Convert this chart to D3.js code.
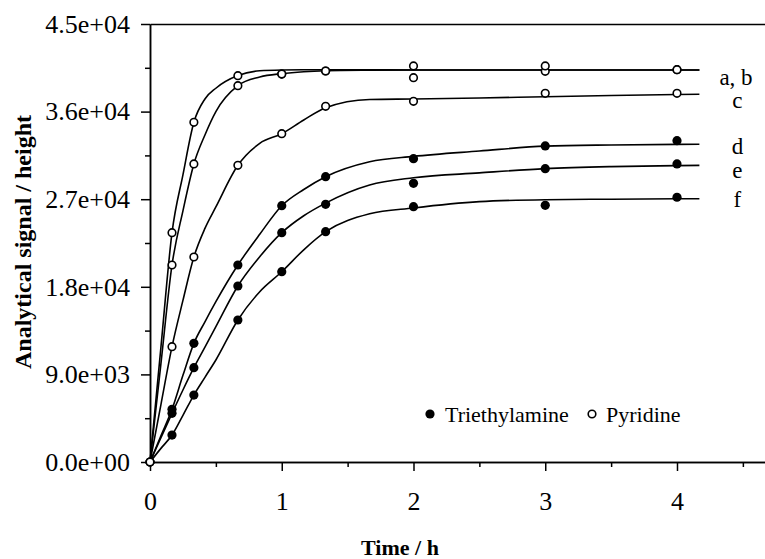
<!DOCTYPE html>
<html>
<head>
<meta charset="utf-8">
<script src="https://cdn.jsdelivr.net/npm/d3@7"></script>
<style>
  body { margin: 0; background: #fff; }
  svg text { font-family: "Liberation Serif", "Times New Roman", serif; fill: #000; }
  .axis path, .axis line { stroke: #000; stroke-width: 1.5; }
</style>
</head>
<body>
<div id="chart"></div>
<script>
// Data
// =======================
// sampling times (h)
var sampleTimes = [0, 0.167, 0.333, 0.667, 1, 1.333, 2, 3, 4];

// Pyridine (open circles)
var pyrA = [0, 23560, 34900, 39690, 39860, 40170, 40690, 40140, 40310];
var pyrB = [0, 20240, 30620, 38660, 39860, 40170, 39490, 40690, 40310];
var pyrC = [0, 11850, 21060, 30480, 33730, 36540, 37060, 37880, 37880];

// Triethylamine (filled circles)
var teaD = [0, 5410, 12190, 20240, 26330, 29310, 31160, 32470, 33010];
var teaE = [0, 5000, 9690, 18080, 23560, 26470, 28630, 30140, 30620];
var teaF = [0, 2770, 6880, 14590, 19550, 23660, 26230, 26370, 27200];

// fitted curves, read at these times
var fitTimes = [0, 0.083, 0.167, 0.25, 0.333, 0.417, 0.5, 0.667, 0.833, 1, 1.167, 1.333, 1.667, 2, 2.5, 3, 3.5, 4, 4.17];
var fitA = [0, 11800, 23560, 29500, 34900, 37300, 38400, 39700, 40200, 40280, 40300, 40300, 40290, 40280, 40280, 40280, 40280, 40280, 40280];
var fitB = [0, 10100, 20240, 25800, 30620, 33600, 36000, 38660, 39550, 39900, 40100, 40200, 40260, 40280, 40280, 40280, 40280, 40280, 40280];
var fitC = [0, 5900, 11850, 16600, 21060, 24000, 26200, 30480, 32740, 33730, 35140, 36400, 37250, 37300, 37400, 37530, 37650, 37750, 37780];
var fitD = [0, 2700, 5410, 8900, 12190, 14400, 16470, 20240, 23400, 26330, 28000, 29310, 30850, 31400, 31950, 32450, 32570, 32630, 32640];
var fitE = [0, 2500, 5000, 7400, 9690, 11800, 13900, 18080, 21090, 23560, 25300, 26600, 28460, 29200, 29700, 30140, 30350, 30450, 30480];
var fitF = [0, 1400, 2770, 4800, 6880, 8700, 10480, 14590, 17500, 19550, 21800, 23660, 25500, 26100, 26750, 26950, 27000, 27040, 27050];

// curve labels at the right end
var curveLabels = ["a, b", "c", "d", "e", "f"];

// axes
var xTicks = [0, 1, 2, 3, 4];
var xTickLabels = ["0", "1", "2", "3", "4"];
var xMinorTicks = [0.5, 1.5, 2.5, 3.5, 4.5];
var yTicks = [0, 9000, 18000, 27000, 36000, 45000];
var yTickLabels = ["0.0e+00", "9.0e+03", "1.8e+04", "2.7e+04", "3.6e+04", "4.5e+04"];
var yMinorTicks = [4500, 13500, 22500, 31500, 40500];

var legendNames = ["Triethylamine", "Pyridine"];

// Layout
// =======================
var width = 765;
var height = 559;
var serif = "Liberation Serif, Times New Roman, serif";

var svg = d3.select("#chart")
    .append("svg")
    .attr("width", width)
    .attr("height", height)
    .attr("font-family", serif);

var xScale = d3.scaleLinear().domain([0, 4.668]).range([150, 765]);
var yScale = d3.scaleLinear().domain([0, 45000]).range([462, 24]);

// Axes
// =======================
svg.append("g")
    .attr("class", "axis")
    .attr("transform", "translate(0," + yScale(0) + ")")
    .call(d3.axisBottom(xScale).tickValues(xTicks)
        .tickFormat(function(d, i) { return xTickLabels[i]; })
        .tickSize(9).tickPadding(21).tickSizeOuter(0));
svg.append("g")
    .attr("class", "axis")
    .attr("transform", "translate(0," + yScale(0) + ")")
    .call(d3.axisBottom(xScale).tickValues(xMinorTicks).tickSize(5).tickFormat("").tickSizeOuter(0));

// line along the top of the plot
svg.append("g")
    .attr("class", "axis")
    .attr("transform", "translate(0," + yScale(45000) + ")")
    .call(d3.axisTop(xScale).tickValues([]).tickSizeOuter(0));

svg.append("g")
    .attr("class", "axis")
    .attr("transform", "translate(" + xScale(0) + ",0)")
    .call(d3.axisLeft(yScale).tickValues(yTicks)
        .tickFormat(function(d, i) { return yTickLabels[i]; })
        .tickSize(9).tickPadding(11).tickSizeOuter(0));
svg.append("g")
    .attr("class", "axis")
    .attr("transform", "translate(" + xScale(0) + ",0)")
    .call(d3.axisLeft(yScale).tickValues(yMinorTicks).tickSize(5).tickFormat("").tickSizeOuter(0));

// d3 puts sans-serif on the axis groups; use the serif face like the rest
svg.selectAll(".axis")
    .attr("font-family", serif)
    .attr("font-size", 26);

// Axis titles
svg.append("text")
    .attr("x", 400)
    .attr("y", 555)
    .attr("text-anchor", "middle")
    .attr("font-weight", "bold")
    .attr("font-size", 22)
    .text("Time / h");

svg.append("text")
    .attr("transform", "translate(31,242)rotate(-90)")
    .attr("text-anchor", "middle")
    .attr("font-weight", "bold")
    .attr("font-size", 24)
    .text("Analytical signal / height");

// Fitted curves
// =======================
var fits = [fitA, fitB, fitC, fitD, fitE, fitF];
var line = d3.line()
    .x(function(d, i) { return xScale(fitTimes[i]); })
    .y(function(d) { return yScale(d); })
    .curve(d3.curveMonotoneX);

svg.append("g").selectAll("path")
    .data(fits)
    .enter()
    .append("path")
    .attr("d", line)
    .attr("fill", "none")
    .attr("stroke", "#000")
    .attr("stroke-width", 1.6);

// Points
// =======================
var points = [];
[pyrA, pyrB, pyrC].forEach(function(s) {
    s.forEach(function(v, i) { points.push({ t: sampleTimes[i], v: v, open: true }); });
});
[teaD, teaE, teaF].forEach(function(s) {
    s.forEach(function(v, i) {
        if (i > 0) points.push({ t: sampleTimes[i], v: v, open: false });
    });
});
// draw the filled ones first so the open origin sits on top
points.sort(function(a, b) { return a.open - b.open; });

svg.append("g").selectAll("circle")
    .data(points)
    .enter()
    .append("circle")
    .attr("cx", function(d) { return xScale(d.t); })
    .attr("cy", function(d) { return yScale(d.v); })
    .attr("r", function(d) { return d.open ? 3.8 : 4.6; })
    .attr("fill", function(d) { return d.open ? "#fff" : "#000"; })
    .attr("stroke", "#000")
    .attr("stroke-width", function(d) { return d.open ? 1.6 : 0; });

// Curve labels
// =======================
var labelEnds = [fitA, fitC, fitD, fitE, fitF];
var labelDy = [15, 14, 10, 13, 8];
svg.append("g").selectAll("text")
    .data(curveLabels)
    .enter()
    .append("text")
    .attr("x", function(d, i) { return i == 0 ? xScale(4.17) + 20 : xScale(4.17) + 38; })
    .attr("y", function(d, i) {
        var s = labelEnds[i];
        return yScale(s[s.length - 1]) + labelDy[i];
    })
    .attr("text-anchor", function(d, i) { return i == 0 ? "start" : "middle"; })
    .attr("font-size", 23)
    .text(function(d) { return d; });

// Legend
// =======================
var legend = svg.append("g").attr("transform", "translate(430,414)");
legend.append("circle").attr("cx", 0).attr("cy", 0).attr("r", 4.6).attr("fill", "#000");
legend.append("text").attr("x", 15).attr("y", 7.5).attr("font-size", 22).text(legendNames[0]);
legend.append("circle").attr("cx", 162).attr("cy", 0).attr("r", 3.8)
    .attr("fill", "#fff").attr("stroke", "#000").attr("stroke-width", 1.6);
legend.append("text").attr("x", 176).attr("y", 7.5).attr("font-size", 22).text(legendNames[1]);
</script>
</body>
</html>
